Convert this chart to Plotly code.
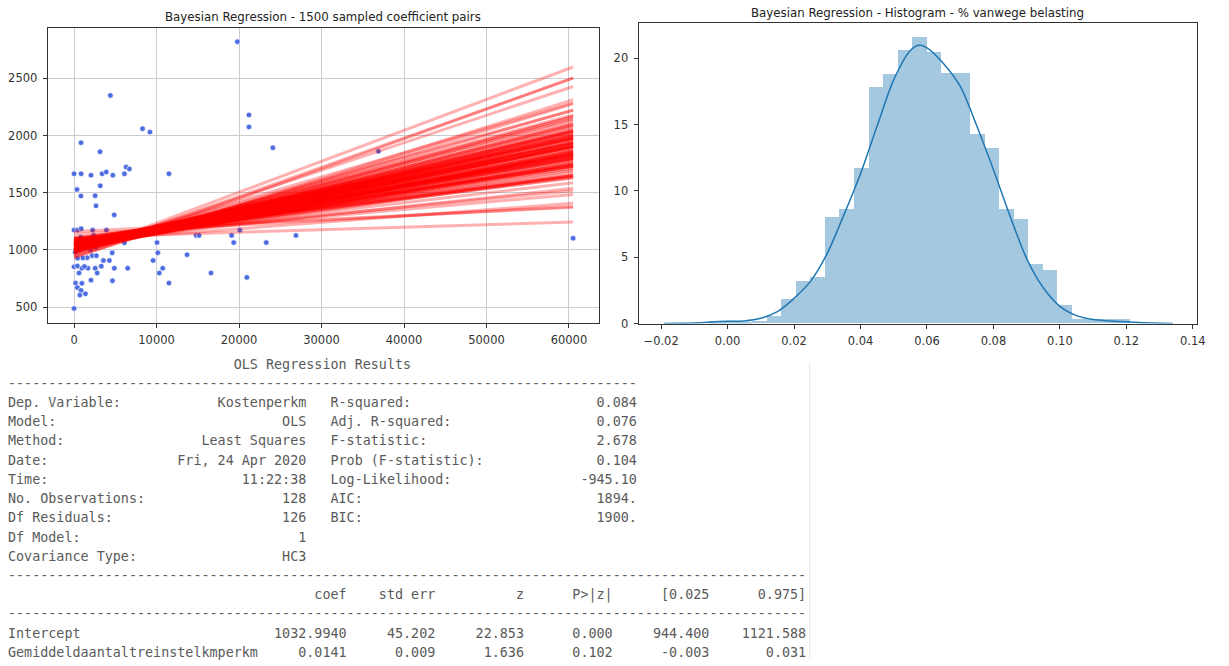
import plotly.graph_objects as go

W, H = 1229, 666

# ---------------- Left panel: observations ----------------
obs_x = [19800, 4400, 8300, 9200, 21200, 21200, 24100, 36900, 850, 3150,
         0, 850, 2050, 3400, 3900, 4700, 6100, 6300, 6700, 11500,
         350, 3170, 830, 2550, 2660, 4870, 0, 420, 860, 2250,
         3920, 2380, 14800, 15150, 19100, 26900, 20100, 19350, 23300, 10050,
         6100, 60500, 10150, 13700, 4620, 2200, 2700, 1580, 1050, 420,
         3550, 4280, 9580, 3300, 2560, 1680, 950, 0, 400, 4880,
         6500, 10750, 2800, 600, 10330, 16600, 20950, 2050, 4650, 11500,
         180, 950, 400, 850, 1380, 700, 0, 1250,
         300, 1200, 2600, 500, 3300, 1800, 800, 5200, 150, 2000]
obs_y = [2820, 2350, 2060, 2030, 2180, 2075, 1893, 1862, 1937, 1858,
         1665, 1665, 1653, 1665, 1680, 1653, 1665, 1724, 1708, 1665,
         1528, 1560, 1472, 1474, 1385, 1306, 1173, 1173, 1186, 1173,
         1173, 1128, 1127, 1127, 1127, 1127, 1172, 1064, 1064, 1064,
         1062, 1102, 975, 958, 975, 950, 950, 932, 930, 928,
         908, 908, 908, 858, 840, 840, 840, 853, 860, 840,
         840, 840, 798, 798, 798, 798, 760, 736, 730, 710,
         710, 708, 671, 646, 616, 605, 488, 855,
         1050, 1080, 1020, 1000, 1100, 1040, 1110, 1090, 980, 1000]

# posterior samples (intercept, slope)
sample_intercept = [1046, 997, 1075, 999, 1059, 1000, 1056, 1029, 1000, 1101,
                    989, 1064, 1000, 1045, 1023, 1047, 1027, 1003, 1060, 1063,
                    1045, 999, 1082, 981, 1073, 1002, 1064, 995, 1046, 1063,
                    945, 1094, 1025, 1029, 1033, 1046, 1038, 1007, 1021, 1071,
                    976, 1075, 1043, 1049, 1029, 1019, 1011, 1038, 958, 1138,
                    999, 1046, 1010, 1062, 997, 1076, 977, 1069, 1036, 1055,
                    1056, 995, 1085, 1000, 1030, 1011, 1043, 1037, 1003, 1103,
                    1002, 1038, 1010, 1060, 994, 1079, 969, 1071, 1034, 1050,
                    1060, 994, 1084, 998, 1032, 1015, 1002, 1066, 1024, 1084,
                    939, 1098, 1024, 1045, 1007, 1067, 986, 1064, 994, 1101,
                    965, 1110, 1160, 930]
sample_slope = [0.0141, 0.0165, 0.0120, 0.0180, 0.0105, 0.0150, 0.0135, 0.0128, 0.0195, 0.0092,
                0.0158, 0.0112, 0.0172, 0.0146, 0.0133, 0.0153, 0.0117, 0.0188, 0.0098, 0.0139,
                0.0142, 0.0161, 0.0108, 0.0205, 0.0085, 0.0149, 0.0125, 0.0176, 0.0131, 0.0144,
                0.0220, 0.0070, 0.0137, 0.0168, 0.0119, 0.0156, 0.0101, 0.0183, 0.0152, 0.0129,
                0.0240, 0.0055, 0.0163, 0.0110, 0.0147, 0.0125, 0.0200, 0.0115, 0.0255, 0.0040,
                0.0143, 0.0138, 0.0159, 0.0122, 0.0170, 0.0114, 0.0186, 0.0096, 0.0132, 0.0151,
                0.0127, 0.0166, 0.0104, 0.0178, 0.0145, 0.0136, 0.0154, 0.0118, 0.0192, 0.0089,
                0.0140, 0.0148, 0.0160, 0.0124, 0.0173, 0.0111, 0.0198, 0.0093, 0.0134, 0.0157,
                0.0121, 0.0169, 0.0107, 0.0181, 0.0143, 0.0130, 0.0212, 0.0078, 0.0162, 0.0116,
                0.0227, 0.0064, 0.0139, 0.0146, 0.0155, 0.0126, 0.0174, 0.0102, 0.0190, 0.0087,
                0.0270, 0.0022, 0.0035, 0.0260]
line_x_span = [0, 60500]

left_xticks = [0, 10000, 20000, 30000, 40000, 50000, 60000]
left_yticks = [500, 1000, 1500, 2000, 2500]

# ---------------- Right panel: histogram + KDE ----------------
hist_start = -0.0058
hist_binwidth = 0.00437
hist_density = [0.15, 0.05, 0.05, 0.2, 0.57, 1.8, 3.2, 3.5, 8.0, 8.6,
                11.7, 17.8, 18.8, 20.6, 21.6, 20.5, 18.9, 18.9, 14.3, 13.2,
                8.6, 7.9, 4.5, 4.0, 1.4, 0.35, 0.35, 0.35, 0.35]
kde_x = [-0.0192, -0.015, -0.010, -0.005, 0.000, 0.005, 0.010, 0.015, 0.020, 0.025,
         0.030, 0.035, 0.040, 0.045, 0.050, 0.055, 0.0575, 0.060, 0.065, 0.070,
         0.075, 0.080, 0.085, 0.090, 0.095, 0.100, 0.105, 0.110, 0.115, 0.120,
         0.125, 0.130, 0.134]
kde_y = [0.0, 0.02, 0.05, 0.12, 0.17, 0.2, 0.4, 0.9, 1.9, 3.2,
         5.3, 8.2, 11.3, 14.9, 18.4, 20.6, 21.0, 20.8, 19.6, 17.9,
         14.9, 11.6, 8.1, 4.9, 2.7, 1.3, 0.6, 0.3, 0.2, 0.13,
         0.07, 0.03, 0.0]
right_xticks = [-0.02, 0.00, 0.02, 0.04, 0.06, 0.08, 0.10, 0.12, 0.14]
right_xticktext = ["\u22120.02", "0.00", "0.02", "0.04", "0.06", "0.08", "0.10", "0.12", "0.14"]
right_yticks = [0, 5, 10, 15, 20]

# ---------------- OLS summary table ----------------
ols_title = "OLS Regression Results"
ols_left_labels = ["Dep. Variable:", "Model:", "Method:", "Date:", "Time:",
                   "No. Observations:", "Df Residuals:", "Df Model:", "Covariance Type:"]
ols_left_values = ["Kostenperkm", "OLS", "Least Squares", "Fri, 24 Apr 2020", "11:22:38",
                   "128", "126", "1", "HC3"]
ols_right_labels = ["R-squared:", "Adj. R-squared:", "F-statistic:", "Prob (F-statistic):",
                    "Log-Likelihood:", "AIC:", "BIC:", "", ""]
ols_right_values = ["0.084", "0.076", "2.678", "0.104", "-945.10", "1894.", "1900.", "", ""]
param_header = ["coef", "std err", "z", "P>|z|", "[0.025", "0.975]"]
param_names = ["Intercept", "Gemiddeldaantaltreinstelkmperkm"]
param_rows = [["1032.9940", "45.202", "22.853", "0.000", "944.400", "1121.588"],
              ["0.0141", "0.009", "1.636", "0.102", "-0.003", "0.031"]]

# ---------------- Build figure ----------------
fig = go.Figure()

fig.add_trace(go.Scatter(
    x=obs_x, y=obs_y, mode="markers", xaxis="x", yaxis="y",
    marker=dict(size=5.5, color="rgb(78,108,225)", line=dict(color="white", width=0.6)),
    hoverinfo="skip", showlegend=False))

for a, b in zip(sample_intercept, sample_slope):
    fig.add_trace(go.Scatter(
        x=line_x_span, y=[a + b * xv for xv in line_x_span], mode="lines",
        xaxis="x", yaxis="y", line=dict(color="red", width=3.0), opacity=0.3,
        hoverinfo="skip", showlegend=False))

bin_centers = [hist_start + hist_binwidth * (i + 0.5) for i in range(len(hist_density))]
fig.add_trace(go.Bar(
    x=bin_centers, y=hist_density, width=hist_binwidth, xaxis="x2", yaxis="y2",
    marker=dict(color="#a5c8e1", line=dict(width=0)), hoverinfo="skip", showlegend=False))
fig.add_trace(go.Scatter(
    x=kde_x, y=kde_y, mode="lines", xaxis="x2", yaxis="y2",
    line=dict(color="#1f77b4", width=1.5, shape="spline", smoothing=0.8),
    hoverinfo="skip", showlegend=False))

tickfont = dict(family="DejaVu Sans", size=11.5, color="#333333")
axis_common = dict(showline=True, linecolor="#333333", linewidth=1, mirror=True,
                   ticks="outside", ticklen=4, tickcolor="#333333", tickwidth=1,
                   zeroline=False, tickfont=tickfont, ticklabelstandoff=3)

fig.update_layout(
    width=W, height=H, margin=dict(l=0, r=0, t=0, b=0),
    paper_bgcolor="white", plot_bgcolor="white", bargap=0, showlegend=False,
    xaxis=dict(domain=[48 / W, 603 / W], range=[-3200, 63650], tickvals=left_xticks,
               tickformat="d", showgrid=True, gridcolor="#cccccc", gridwidth=1,
               anchor="y", **axis_common),
    yaxis=dict(domain=[1 - 326 / H, 1 - 28 / H], range=[365, 2942], tickvals=left_yticks,
               tickformat="d", showgrid=True, gridcolor="#cccccc", gridwidth=1,
               anchor="x", **axis_common),
    xaxis2=dict(domain=[642.7 / W, 1205 / W], range=[-0.0268, 0.1413], tickvals=right_xticks,
                ticktext=right_xticktext, showgrid=False, anchor="y2", **axis_common),
    yaxis2=dict(domain=[1 - 327 / H, 1 - 23.5 / H], range=[0, 22.65], tickvals=right_yticks,
                showgrid=False, anchor="x2", **axis_common),
)

annotations = []
title_font = dict(family="DejaVu Sans", size=11.8, color="#222222")
annotations.append(dict(text="Bayesian Regression - 1500 sampled coefficient pairs",
                        x=325.5 / W, y=1 - 17 / H, xref="paper", yref="paper",
                        xanchor="center", yanchor="middle", showarrow=False, font=title_font))
annotations.append(dict(text="Bayesian Regression - Histogram - % vanwege belasting",
                        x=924 / W, y=1 - 13 / H, xref="paper", yref="paper",
                        xanchor="center", yanchor="middle", showarrow=False, font=title_font))

# table text lines (statsmodels layout)
lines = []
lines.append(ols_title.center(78))
lines.append("-" * 78)
for ll, lv, rl, rv in zip(ols_left_labels, ols_left_values, ols_right_labels, ols_right_values):
    left = ll + lv.rjust(37 - len(ll))
    right = (rl + rv.rjust(38 - len(rl))) if rl else ""
    lines.append(left + "   " + right)
lines.append("-" * 99)
widths = [10, 11, 11, 11, 12, 12]
lines.append(" " * 32 + "".join(h.rjust(w) for h, w in zip(param_header, widths)))
lines.append("-" * 99)
for name, row in zip(param_names, param_rows):
    lines.append(name.ljust(32) + "".join(v.rjust(w) for v, w in zip(row, widths)))

mono = dict(family="DejaVu Sans Mono", size=13.4, color="#5a5a5a")
for i, ln in enumerate(lines):
    ypx = 368 + 19.42 * i
    annotations.append(dict(text=ln.rstrip().replace(" ", "\u00a0"), x=6 / W, y=1 - ypx / H,
                            xref="paper", yref="paper", xanchor="left", yanchor="middle",
                            showarrow=False, font=mono))

fig.update_layout(annotations=annotations)
fig.add_shape(type="line", xref="paper", yref="paper", x0=815 / W, x1=815 / W,
              y0=0, y1=1 - 366 / H, line=dict(color="#e6e6e6", width=1))

fig.write_html("out.html", config={"displayModeBar": False},
               post_script="document.body.style.margin='0';document.body.style.overflow='hidden';")
